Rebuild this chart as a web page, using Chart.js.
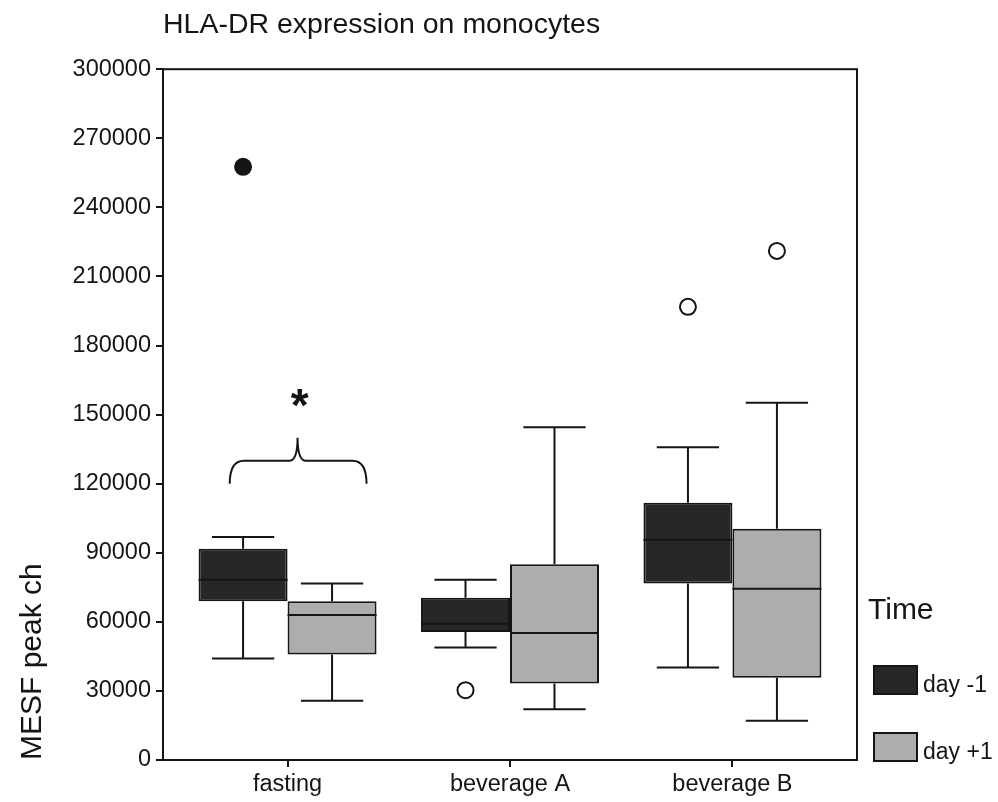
<!DOCTYPE html>
<html>
<head>
<meta charset="utf-8">
<title>HLA-DR expression on monocytes</title>
<script src="https://cdn.jsdelivr.net/npm/chart.js@4/dist/chart.umd.min.js"></script>
<style>
  html, body { margin: 0; padding: 0; background: #fff; }
  canvas { display: block; }
</style>
</head>
<body>
<canvas id="chart" width="998" height="802"></canvas>
<script>
const categories = ['fasting', 'beverage A', 'beverage B']
const seriesNames = ['day -1', 'day +1']
const yTickValues = [0, 30000, 60000, 90000, 120000, 150000, 180000, 210000, 240000, 270000, 300000]

// day -1
const beforeMin = [44100, 48900, 40200]
const beforeQ1 = [68900, 55600, 76600]
const beforeMedian = [78300, 59200, 95600]
const beforeQ3 = [91700, 70500, 111700]
const beforeMax = [96800, 78300, 135800]
const beforeOutliers = [[], [30300], [196800]]
const beforeExtremes = [[257600], [], []]

// day +1
const afterMin = [25700, 22000, 17000]
const afterQ1 = [45800, 33200, 35700]
const afterMedian = [63000, 55200, 74400]
const afterQ3 = [68900, 85000, 100400]
const afterMax = [76600, 144500, 155100]
const afterOutliers = [[], [], [221100]]

// significance brace over fasting: ends, bar, tip (values) and the star above it
const braceLevels = [120000, 130000, 140000]
const braceSpan = [-0.26, 0.355]
const braceTip = 0.045
const starLevel = 157000
const starText = '*'

const FONT = '"Liberation Sans", Arial, Helvetica, sans-serif'
const INK = '#151515'
const fills = ['#272727', '#adadad']
const half = 0.2 // half a box in category units

function boxDataset(label, fill, q1, q3, min, median, max) {
    return {
        label,
        data: categories.map((_, i) => ({ x: i, y: [q1[i], q3[i]] })),
        backgroundColor: fill,
        borderColor: INK,
        borderWidth: 2,
        borderSkipped: false,
        whiskers: { min, median, max },
        order: 1
    }
}

function outlierDataset(offset, values, fill) {
    const data = []
    values.forEach((list, i) => list.forEach(v => data.push({ x: i + offset, y: v })))
    return {
        type: 'scatter',
        data,
        pointStyle: 'circle',
        pointRadius: 8,
        backgroundColor: fill,
        borderColor: INK,
        borderWidth: 2,
        order: 0
    }
}

const framePlugin = {
    id: 'frame',
    afterDatasetsDraw(chart) {
        const { ctx, chartArea: a } = chart
        ctx.save()
        ctx.strokeStyle = INK
        ctx.lineWidth = 2
        ctx.strokeRect(a.left, a.top, a.right - a.left, a.bottom - a.top)
        ctx.restore()
    }
}

const whiskerPlugin = {
    id: 'whiskers',
    afterDatasetsDraw(chart) {
        const { ctx, scales: { y } } = chart
        ctx.save()
        ctx.strokeStyle = INK
        ctx.lineWidth = 2
        chart.data.datasets.forEach((ds, di) => {
            if (!ds.whiskers) return
            chart.getDatasetMeta(di).data.forEach((bar, i) => {
                const { x, width } = bar.getProps(['x', 'width'], true)
                const cap = width * 0.35
                const yLow = y.getPixelForValue(ds.whiskers.min[i])
                const yHigh = y.getPixelForValue(ds.whiskers.max[i])
                const yMed = y.getPixelForValue(ds.whiskers.median[i])
                const yQ1 = y.getPixelForValue(ds.data[i].y[0])
                const yQ3 = y.getPixelForValue(ds.data[i].y[1])
                ctx.beginPath()
                ctx.moveTo(x, yQ3); ctx.lineTo(x, yHigh)
                ctx.moveTo(x - cap, yHigh); ctx.lineTo(x + cap, yHigh)
                ctx.moveTo(x, yQ1); ctx.lineTo(x, yLow)
                ctx.moveTo(x - cap, yLow); ctx.lineTo(x + cap, yLow)
                ctx.moveTo(x - width / 2, yMed); ctx.lineTo(x + width / 2, yMed)
                ctx.stroke()
            })
        })
        ctx.restore()
    }
}

const bracePlugin = {
    id: 'brace',
    afterDatasetsDraw(chart) {
        const { ctx, scales: { x, y } } = chart
        const x0 = x.getPixelForValue(braceSpan[0])
        const x1 = x.getPixelForValue(braceSpan[1])
        const xm = x.getPixelForValue(braceTip)
        const yEnd = y.getPixelForValue(braceLevels[0])
        const yBar = y.getPixelForValue(braceLevels[1])
        const yTip = y.getPixelForValue(braceLevels[2])
        const r = 14
        ctx.save()
        ctx.strokeStyle = INK
        ctx.lineWidth = 2
        ctx.beginPath()
        ctx.moveTo(x0, yEnd)
        ctx.quadraticCurveTo(x0, yBar, x0 + r, yBar)
        ctx.lineTo(xm - r * 0.6, yBar)
        ctx.quadraticCurveTo(xm, yBar, xm, yTip)
        ctx.quadraticCurveTo(xm, yBar, xm + r * 0.6, yBar)
        ctx.lineTo(x1 - r, yBar)
        ctx.quadraticCurveTo(x1, yBar, x1, yEnd)
        ctx.stroke()

        ctx.fillStyle = INK
        ctx.font = `bold 46px ${FONT}`
        ctx.textAlign = 'center'
        ctx.textBaseline = 'alphabetic'
        const m = ctx.measureText(starText)
        const cy = y.getPixelForValue(starLevel)
        ctx.fillText(starText, x.getPixelForValue(braceTip + 0.01), cy + (m.actualBoundingBoxAscent - m.actualBoundingBoxDescent) / 2)
        ctx.restore()
    }
}

const legendPlugin = {
    id: 'timeLegend',
    afterDraw(chart) {
        const { ctx, chartArea: a } = chart
        ctx.save()
        ctx.fillStyle = INK
        ctx.textAlign = 'left'
        ctx.textBaseline = 'alphabetic'
        ctx.font = `30px ${FONT}`
        ctx.fillText('Time', a.right + 11, a.bottom - 141)
        ctx.font = `23px ${FONT}`
        ctx.lineWidth = 2
        ctx.strokeStyle = INK
        seriesNames.forEach((name, i) => {
            const top = a.bottom - 95 + i * 67
            ctx.fillStyle = fills[i]
            ctx.fillRect(a.right + 16, top, 45, 30)
            ctx.strokeRect(a.right + 17, top + 1, 43, 28)
            ctx.fillStyle = INK
            ctx.fillText(name, a.right + 66, top + 27)
        })
        ctx.restore()
    }
}

const tickFont = { family: FONT, size: 23.5 }

new Chart(document.getElementById('chart'), {
    type: 'bar',
    data: {
        datasets: [
            boxDataset(seriesNames[0], fills[0], beforeQ1, beforeQ3, beforeMin, beforeMedian, beforeMax),
            boxDataset(seriesNames[1], fills[1], afterQ1, afterQ3, afterMin, afterMedian, afterMax),
            outlierDataset(-half, beforeOutliers, '#ffffff'),
            outlierDataset(half, afterOutliers, '#ffffff'),
            outlierDataset(-half, beforeExtremes, INK)
        ]
    },
    options: {
        responsive: false,
        animation: false,
        events: [],
        layout: { padding: { right: 141 } },
        datasets: { bar: { categoryPercentage: 0.8, barPercentage: 1 } },
        plugins: {
            legend: { display: false },
            tooltip: { enabled: false },
            title: {
                display: true,
                text: 'HLA-DR expression on monocytes',
                align: 'start',
                fullSize: false,
                color: INK,
                font: { family: FONT, size: 28.5, weight: 'normal' },
                padding: { top: 8, bottom: 27 }
            }
        },
        scales: {
            x: {
                type: 'linear',
                offset: false,
                min: -0.56,
                max: 2.56,
                afterBuildTicks: s => { s.ticks = categories.map((_, i) => ({ value: i })) },
                afterFit: s => { s.height = 42 },
                grid: { offset: false, drawOnChartArea: false, drawTicks: true, tickLength: 7, color: INK, lineWidth: 2 },
                border: { display: true, color: INK, width: 2 },
                ticks: { callback: v => categories[v], font: tickFont, color: INK, padding: 3, maxRotation: 0 }
            },
            y: {
                min: 0,
                max: 300000,
                afterBuildTicks: s => { s.ticks = yTickValues.map(v => ({ value: v })) },
                afterFit: s => { s.width = 163 },
                grid: { drawOnChartArea: false, drawTicks: true, tickLength: 7, color: INK, lineWidth: 2 },
                border: { display: true, color: INK, width: 2 },
                ticks: { callback: v => String(v), font: tickFont, color: INK, padding: 5 },
                title: {
                    display: true,
                    text: 'MESF peak ch',
                    align: 'start',
                    color: INK,
                    font: { family: FONT, size: 30 },
                    padding: { top: 15, bottom: 0 }
                }
            }
        }
    },
    plugins: [framePlugin, whiskerPlugin, bracePlugin, legendPlugin]
})
</script>
</body>
</html>
